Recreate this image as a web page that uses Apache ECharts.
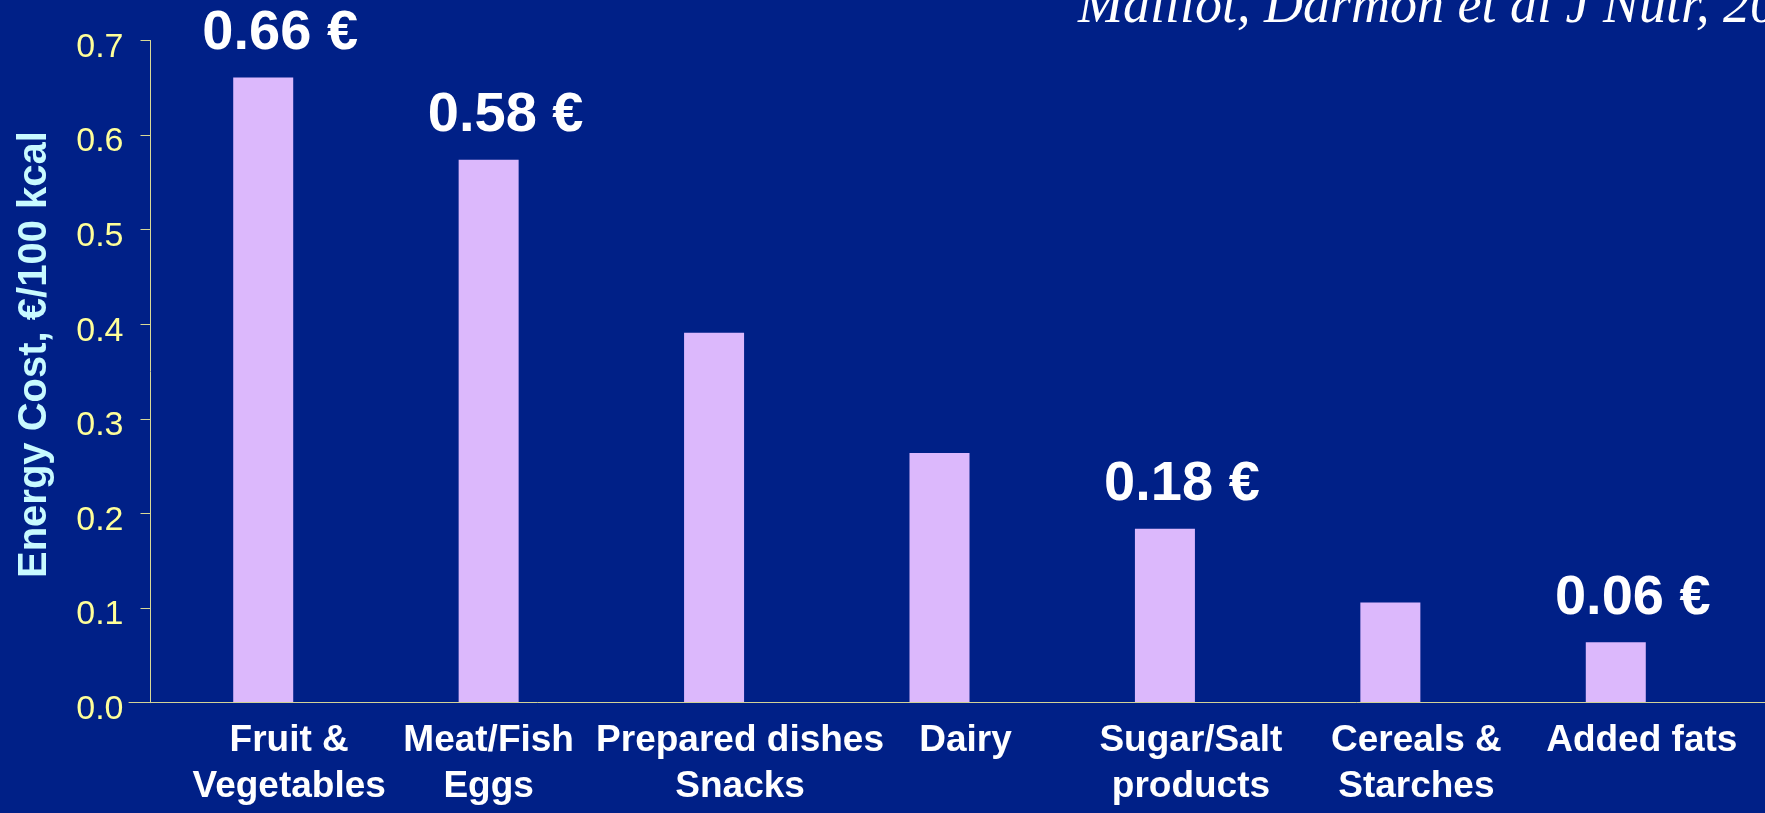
<!DOCTYPE html>
<html>
<head>
<meta charset="utf-8">
<title>Energy cost by food group</title>
<script src="https://cdn.jsdelivr.net/npm/echarts@6/dist/echarts.min.js"></script>
<style>
  html, body { margin: 0; padding: 0; background: #002087; }
  #chart { width: 1765px; height: 813px; }
</style>
</head>
<body>
<div id="chart"></div>
<script>
// food groups, two-line labels as on the slide
const categories = [
  "Fruit &\nVegetables",
  "Meat/Fish\nEggs",
  "Prepared dishes\nSnacks",
  "Dairy",
  "Sugar/Salt\nproducts",
  "Cereals &\nStarches",
  "Added fats"
];
// energy cost, euro per 100 kcal
const costs = [0.661, 0.574, 0.391, 0.264, 0.184, 0.106, 0.064];
// callouts printed above some bars
const callouts = ["0.66 €", "0.58 €", "", "", "0.18 €", "", "0.06 €"];
const yTicks = [0, 0.1, 0.2, 0.3, 0.4, 0.5, 0.6, 0.7];
const yName = "Energy Cost, €/100 kcal";
const citation = "Maillot, Darmon et al J Nutr, 2007";

const chart = echarts.init(document.getElementById("chart"));

const gridTop = 40.5;
const gridBottom = 110.3;
const sans = "Liberation Sans, Arial, sans-serif";

// the slide's text boxes sit a little right of the bars, except Meat/Fish
const catLabel = { color: "#FFFFFF", fontFamily: sans, fontWeight: "bold", fontSize: 37, lineHeight: 46 };
// tick labels sit slightly below their ticks on the slide
const tickLabel = { color: "#FFFF99", fontFamily: sans, fontSize: 34 };

const option = {
  backgroundColor: "#002087",
  animation: false,
  grid: [
    { left: 150.5, right: 36.5, top: gridTop, bottom: gridBottom },
    // wider grid only used to draw the long baseline
    { left: 129, right: 0, top: gridTop, bottom: gridBottom }
  ],
  xAxis: [
    {
      type: "category",
      gridIndex: 0,
      data: categories,
      axisLine: { show: false },
      axisTick: { show: false },
      axisLabel: {
        interval: 0,
        margin: 15,
        ...catLabel,
        formatter: (value, index) => {
          const tag = index === 1 ? "c" : "s";
          return value.split("\n").map((line) => `{${tag}|${line}}`).join("\n");
        },
        rich: {
          s: { ...catLabel, padding: [0, 0, 0, 52] },
          c: { ...catLabel }
        }
      }
    },
    {
      type: "value",
      gridIndex: 1,
      z: 10,
      axisLine: { show: true, onZero: false, lineStyle: { color: "#D2D296", width: 1 } },
      axisTick: { show: false },
      axisLabel: { show: false },
      splitLine: { show: false }
    }
  ],
  yAxis: [
    {
      type: "value",
      gridIndex: 0,
      min: yTicks[0],
      max: yTicks[yTicks.length - 1],
      interval: 0.1,
      name: yName,
      nameLocation: "middle",
      nameGap: 96,
      nameTextStyle: {
        color: "#C8FAFF",
        fontFamily: sans,
        fontWeight: "bold",
        fontSize: 40,
        padding: [0, 0, 0, 34]
      },
      axisLine: { show: true, lineStyle: { color: "#D8D896", width: 1 } },
      axisTick: { show: true, length: 10, lineStyle: { color: "#D8D896" } },
      axisLabel: {
        margin: 27,
        ...tickLabel,
        formatter: (v) => `{v|${v.toFixed(1)}}`,
        rich: {
          v: { ...tickLabel, padding: [14, 0, 0, 0] }
        }
      },
      splitLine: { show: false }
    },
    { type: "value", gridIndex: 1, show: false }
  ],
  series: [
    {
      type: "bar",
      xAxisIndex: 0,
      yAxisIndex: 0,
      data: costs,
      barWidth: 60,
      itemStyle: { color: "#DCB8FC" },
      label: {
        show: true,
        position: "top",
        distance: 16,
        offset: [17, 0],
        color: "#FFFFFF",
        fontFamily: sans,
        fontWeight: "bold",
        fontSize: 56,
        formatter: (p) => callouts[p.dataIndex]
      }
    }
  ],
  graphic: [
    {
      type: "text",
      x: 1078,
      y: 35,
      style: {
        text: citation,
        fill: "#FFFFFF",
        font: "italic 54px 'Liberation Serif', 'Times New Roman', serif",
        verticalAlign: "bottom"
      }
    }
  ]
};

chart.setOption(option);
</script>
</body>
</html>
